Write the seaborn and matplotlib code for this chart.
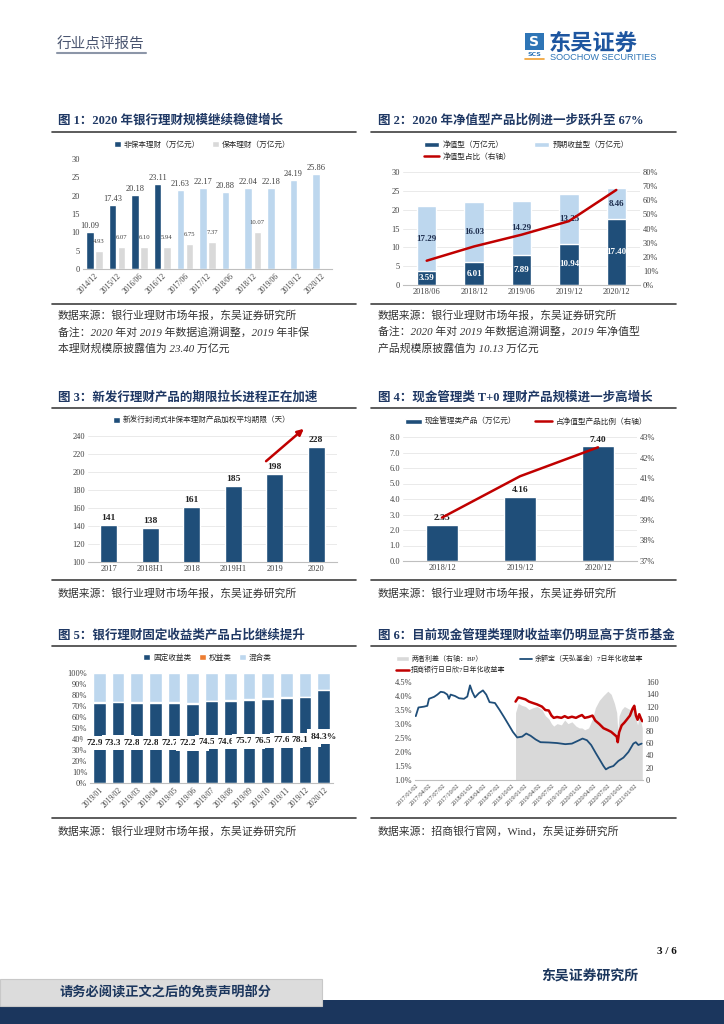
import numpy as np
import pandas as pd
import seaborn as sns
import matplotlib
matplotlib.use("Agg")
import matplotlib.pyplot as plt
from matplotlib.patches import Rectangle, Patch
from matplotlib.lines import Line2D
from matplotlib.ticker import FuncFormatter

### Data ###
# 图1
c1_dates = ["2014/12", "2015/12", "2016/06", "2016/12", "2017/06", "2017/12",
            "2018/06", "2018/12", "2019/06", "2019/12", "2020/12"]
c1_nonguar = [10.09, 17.43, 20.18, 23.11, 21.63, 22.17, 20.88, 22.04, 22.18, 24.19, 25.86]
c1_guar = [4.93, 6.07, 6.10, 5.94, 6.75, 7.37, np.nan, 10.07, np.nan, np.nan, np.nan]

# 图2
c2_dates = ["2018/06", "2018/12", "2019/06", "2019/12", "2020/12"]
c2_net = [3.59, 6.01, 7.89, 10.94, 17.40]
c2_exp = [17.29, 16.03, 14.29, 13.25, 8.46]
c2_ratio = [17.2, 27.3, 35.6, 45.2, 67.3]

# 图3
c3_periods = ["2017", "2018H1", "2018", "2019H1", "2019", "2020"]
c3_days = [141, 138, 161, 185, 198, 228]

# 图4
c4_dates = ["2018/12", "2019/12", "2020/12"]
c4_cash = [2.35, 4.16, 7.40]
c4_ratio = [39.1, 41.1, 42.5]

# 图5
c5_months = ["2019/01", "2019/02", "2019/03", "2019/04", "2019/05", "2019/06", "2019/07",
             "2019/08", "2019/09", "2019/10", "2019/11", "2019/12", "2020/12"]
c5_fixed = [72.9, 73.3, 72.8, 72.8, 72.7, 72.2, 74.5, 74.6, 75.7, 76.5, 77.6, 78.1, 84.3]
c5_equity = [0.5, 0.4, 0.5, 0.5, 0.5, 0.5, 0.5, 0.5, 0.7, 0.5, 0.5, 0.5, 0.6]
c5_labels = ["72.9%", "73.3%", "72.8%", "72.8%", "72.7%", "72.2%", "74.5%",
             "74.6%", "75.7%", "76.5%", "77.6%", "78.1%", "84.3%"]

# 图6
c6_yeb_dates = ["2017-01-02", "2017-01-20", "2017-02-26", "2017-03-20", "2017-03-31", "2017-05-04",
                "2017-05-26", "2017-06-17", "2017-07-09", "2017-07-31", "2017-08-11", "2017-08-22",
                "2017-09-20", "2017-10-17", "2017-11-19", "2017-12-11", "2017-12-29", "2018-01-13",
                "2018-01-31", "2018-02-26", "2018-03-25", "2018-04-16", "2018-05-08", "2018-06-13",
                "2018-07-14", "2018-08-12", "2018-09-09", "2018-10-10", "2018-11-08", "2018-12-11",
                "2019-01-07", "2019-02-05", "2019-03-10", "2019-04-12", "2019-06-06", "2019-07-31",
                "2019-09-24", "2019-11-07", "2019-12-17", "2020-01-17", "2020-02-15", "2020-03-14",
                "2020-04-15", "2020-05-13", "2020-06-04", "2020-06-20", "2020-07-12", "2020-08-09",
                "2020-09-11", "2020-10-15", "2020-11-17", "2020-12-20", "2021-01-05", "2021-01-22",
                "2021-02-13"]
c6_yeb = [3.28, 3.59, 3.62, 3.65, 3.90, 3.97, 4.05, 4.15, 4.13, 4.05, 3.90, 4.05,
          4.00, 3.92, 3.90, 3.98, 4.38, 4.15, 3.95, 4.10, 4.20, 4.05, 3.78, 3.75,
          3.50, 3.25, 3.00, 2.72, 2.52, 2.55, 2.66, 2.58, 2.45, 2.35, 2.34, 2.32,
          2.28, 2.30, 2.40, 2.48, 2.42, 2.25, 1.95, 1.70, 1.50, 1.38, 1.45, 1.50,
          1.68, 1.80, 2.00, 2.30, 2.35, 2.25, 2.30]
c6_cmb_dates = ["2018-10-28", "2018-11-15", "2018-12-07", "2019-01-02", "2019-01-25", "2019-02-20",
                "2019-03-20", "2019-04-22", "2019-05-14", "2019-06-06", "2019-06-24", "2019-07-09",
                "2019-07-31", "2019-08-29", "2019-09-20", "2019-10-12", "2019-11-07", "2019-12-04",
                "2019-12-26", "2020-01-13", "2020-01-31", "2020-02-26", "2020-03-23", "2020-04-11",
                "2020-05-07", "2020-06-04", "2020-07-03", "2020-07-25", "2020-08-16", "2020-08-31",
                "2020-09-07", "2020-09-16", "2020-10-03", "2020-10-21", "2020-11-05", "2020-11-27",
                "2020-12-15", "2020-12-26", "2021-01-06", "2021-01-17", "2021-01-28", "2021-02-08",
                "2021-02-17"]
c6_cmb = [3.80, 3.95, 3.92, 3.88, 3.80, 3.75, 3.70, 3.62, 3.50, 3.48, 3.30, 3.22,
          3.25, 3.22, 3.28, 3.22, 3.26, 3.22, 3.28, 3.32, 3.22, 3.25, 3.30, 3.12,
          3.00, 2.85, 2.78, 2.72, 2.62, 2.55, 2.35, 2.70, 2.95, 3.05, 3.15, 3.30,
          3.55, 3.65, 3.30, 3.15, 3.35, 3.20, 3.10]
c6_spread = [110, 125, 122, 120, 115, 118, 120, 115, 105, 100, 92, 88,
             92, 90, 98, 92, 95, 88, 85, 85, 82, 85, 100, 118,
             130, 138, 145, 140, 125, 110, 80, 105, 115, 120, 118, 115,
             120, 125, 100, 90, 105, 95, 85]
c6_ticks = ["2017/01/02", "2017/04/02", "2017/07/02", "2017/10/02", "2018/01/02", "2018/04/02",
            "2018/07/02", "2018/10/02", "2019/01/02", "2019/04/02", "2019/07/02", "2019/10/02",
            "2020/01/02", "2020/04/02", "2020/07/02", "2020/10/02", "2021/01/02"]

### Colours ###
NAVY = "#1F4E79"
LIGHT = "#BDD7EE"
GREY = "#D9D9D9"
RED = "#C00000"
ORANGE = "#ED7D31"
TITLE = "#1F3864"
TXT = "#404040"

### Seaborn customisation ###
sns.set_theme(style="white")
plt.rcParams['font.family'] = ['Liberation Serif', 'Noto Sans CJK SC']
plt.rcParams['axes.unicode_minus'] = False

W, H = 724, 1024
fig = plt.figure(figsize=(W / 100, H / 100), dpi=100)


def px_axes(x0, y0, x1, y1):
    return fig.add_axes([x0 / W, 1 - y1 / H, (x1 - x0) / W, (y1 - y0) / H])


def ftext(x, y, s, **kw):
    fig.text(x / W, 1 - y / H, s, **kw)


def hline(x0, x1, y, color="#404040", lw=1.2):
    fig.add_artist(Line2D([x0 / W, x1 / W], [1 - y / H, 1 - y / H], color=color, lw=lw))


def style_axes(ax, grid=True):
    for s in ["top", "right", "left"]:
        ax.spines[s].set_visible(False)
    ax.spines["bottom"].set_color("#BFBFBF")
    ax.spines["bottom"].set_linewidth(0.8)
    ax.tick_params(axis="both", length=0, labelsize=6, colors=TXT, pad=2)
    if grid:
        ax.yaxis.grid(True, color="#E6E6E6", lw=0.6)
        ax.set_axisbelow(True)
    ax.set_xlabel("")
    ax.set_ylabel("")


def style_right(ax):
    for s in ["top", "right", "left", "bottom"]:
        ax.spines[s].set_visible(False)
    ax.tick_params(axis="both", length=0, labelsize=6, colors=TXT, pad=2)
    ax.set_ylabel("")
    ax.grid(False)


def legend_at(ax, handles, labels, x, y, ncol, fs=5.5, hl=0.9, cs=1.5):
    ax.legend(handles, labels, loc="center left", bbox_to_anchor=(x / W, 1 - y / H),
              bbox_transform=fig.transFigure, ncol=ncol, frameon=False, fontsize=fs,
              handlelength=hl, handleheight=0.8, columnspacing=cs, handletextpad=0.4,
              borderaxespad=0, borderpad=0, labelspacing=0.5)


def panel_title(x, y, s):
    ftext(x, y, s, fontsize=9, fontweight="bold", color=TITLE, va="center")


def caption(x, y, s, italic=False):
    ftext(x, y, s, fontsize=7.8, color="#333333", va="center",
          style="italic" if italic else "normal")


### Header ###
ftext(57, 45, "行业点评报告", fontsize=10.5, color="#4A5570", va="center")
hline(57, 146, 53, color="#8C96A8", lw=1.5)
fig.add_artist(Rectangle((525 / W, 1 - 50 / H), 19 / W, 17 / H, transform=fig.transFigure,
                         fc="#2E75B6", ec="none"))
ftext(534.5, 41.5, "S", fontsize=10, fontweight="bold", color="white", ha="center", va="center",
      family="DejaVu Sans")
ftext(534.5, 55, "SCS", fontsize=4.5, fontweight="bold", color="#2E75B6", ha="center", va="center",
      family="DejaVu Sans")
hline(525, 544, 59, color="#F0A030", lw=1.2)
ftext(549, 43, "东吴证券", fontsize=16, fontweight="bold", color="#1E56A0", va="center",
      family="Noto Sans CJK SC")
ftext(550, 58, "SOOCHOW SECURITIES", fontsize=6.6, color="#2E75B6", va="center",
      family="Liberation Sans")

### 图1 ###
panel_title(58, 120, "图 1：2020 年银行理财规模继续稳健增长")
hline(52, 356, 132)
df1 = pd.DataFrame({
    "date": c1_dates * 2,
    "val": c1_nonguar + c1_guar,
    "kind": ["非保本理财（万亿元）"] * len(c1_dates) + ["保本理财（万亿元）"] * len(c1_dates),
}).dropna()
ax1 = px_axes(83, 159, 332, 269)
sns.barplot(data=df1, x="date", y="val", hue="kind", palette=[NAVY, GREY], width=0.8,
            gap=0.17, saturation=1, ax=ax1)
for i, p in enumerate(ax1.containers[0]):
    if i >= 4:
        p.set_facecolor(LIGHT)
ax1.bar_label(ax1.containers[0], fmt="%.2f", fontsize=6, padding=1.5, color=TXT)
ax1.bar_label(ax1.containers[1], fmt="%.2f", fontsize=4.8, padding=5, color=TXT)
style_axes(ax1, grid=False)
ax1.set_ylim(0, 30)
ax1.set_yticks(range(0, 31, 5))
ax1.set_xlim(-0.5, len(c1_dates) - 0.5)
plt.setp(ax1.get_xticklabels(), rotation=45, ha="right", rotation_mode="anchor", fontsize=5.5)
legend_at(ax1, [Patch(fc=NAVY), Patch(fc=GREY)], ["非保本理财（万亿元）", "保本理财（万亿元）"],
          114, 145, 2)
hline(52, 356, 304)
caption(58, 315, "数据来源：银行业理财市场年报，东吴证券研究所")
caption(58, 332, "备注：2020 年对 2019 年数据追溯调整，2019 年非保", italic=True)
caption(58, 349, "本理财规模原披露值为 23.40 万亿元", italic=True)

### 图2 ###
panel_title(378, 120, "图 2：2020 年净值型产品比例进一步跃升至 67%")
hline(371, 676, 132)
c2_total = [a + b for a, b in zip(c2_net, c2_exp)]
ax2 = px_axes(403, 172, 640, 285)
sns.barplot(x=c2_dates, y=c2_total, color=LIGHT, width=0.41, saturation=1, ax=ax2)
sns.barplot(x=c2_dates, y=c2_net, color=NAVY, width=0.41, saturation=1, ax=ax2)
for i, (a, b) in enumerate(zip(c2_net, c2_exp)):
    ax2.text(i, a / 2, f"{a:.2f}", ha="center", va="center", fontsize=6.5,
             fontweight="bold", color="white")
    ax2.text(i, a + b / 2, f"{b:.2f}", ha="center", va="center", fontsize=6.5,
             fontweight="bold", color="#1F2F4F")
style_axes(ax2)
ax2.set_ylim(0, 30)
ax2.set_yticks(range(0, 31, 5))
ax2r = ax2.twinx()
sns.lineplot(x=np.arange(len(c2_dates)), y=c2_ratio, color=RED, lw=1.8, ax=ax2r)
ax2r.set_ylim(0, 80)
ax2r.set_yticks(range(0, 81, 10))
ax2r.yaxis.set_major_formatter(FuncFormatter(lambda v, p: f"{v:.0f}%"))
style_right(ax2r)
ax2.set_xlim(-0.5, len(c2_dates) - 0.5)
legend_at(ax2, [Patch(fc=NAVY), Line2D([], [], color=RED, lw=1.8), Patch(fc=LIGHT)],
          ["净值型（万亿元）", "净值型占比（右轴）", "预期收益型（万亿元）"], 424, 151, 2, hl=2.0, cs=3.0)
hline(371, 676, 304)
caption(378, 315, "数据来源：银行业理财市场年报，东吴证券研究所")
caption(378, 332, "备注：2020 年对 2019 年数据追溯调整，2019 年净值型", italic=True)
caption(378, 349, "产品规模原披露值为 10.13 万亿元", italic=True)

### 图3 ###
panel_title(58, 397, "图 3：新发行理财产品的期限拉长进程正在加速")
hline(52, 356, 408)
ax3 = px_axes(88, 436, 337, 562)
sns.barplot(x=c3_periods, y=c3_days, color=NAVY, width=0.42, saturation=1, ax=ax3)
ax3.bar_label(ax3.containers[0], fmt="%d", fontsize=6.8, fontweight="bold", padding=2, color="#222222")
style_axes(ax3)
ax3.set_ylim(100, 240)
ax3.set_yticks(range(100, 241, 20))
ax3.annotate("", xy=(4.75, 250), xytext=(3.74, 210), annotation_clip=False,
             arrowprops=dict(arrowstyle="-|>", color=RED, lw=1.8, mutation_scale=9))
legend_at(ax3, [Patch(fc=NAVY)], ["新发行封闭式非保本理财产品加权平均期限（天）"], 113, 421, 1)
hline(52, 356, 580)
caption(58, 593, "数据来源：银行业理财市场年报，东吴证券研究所")

### 图4 ###
panel_title(378, 397, "图 4：现金管理类 T+0 理财产品规模进一步高增长")
hline(371, 676, 408)
ax4 = px_axes(403, 437, 637, 561)
sns.barplot(x=c4_dates, y=c4_cash, color=NAVY, width=0.4, saturation=1, ax=ax4)
ax4.bar_label(ax4.containers[0], fmt="%.2f", fontsize=6.8, fontweight="bold", padding=2, color="#222222")
style_axes(ax4)
ax4.set_ylim(0, 8)
ax4.set_yticks(range(0, 9))
ax4.yaxis.set_major_formatter(FuncFormatter(lambda v, p: f"{v:.1f}"))
ax4r = ax4.twinx()
sns.lineplot(x=np.arange(len(c4_dates)), y=c4_ratio, color=RED, lw=1.8, ax=ax4r)
ax4r.set_ylim(37, 43)
ax4r.set_yticks(range(37, 44))
ax4r.yaxis.set_major_formatter(FuncFormatter(lambda v, p: f"{v:.0f}%"))
style_right(ax4r)
ax4.set_xlim(-0.5, len(c4_dates) - 0.5)
legend_at(ax4, [Patch(fc=NAVY), Line2D([], [], color=RED, lw=1.8)],
          ["现金管理类产品（万亿元）", "占净值型产品比例（右轴）"], 405, 422, 2, hl=2.2, cs=2.5)
hline(371, 676, 580)
caption(378, 593, "数据来源：银行业理财市场年报，东吴证券研究所")

### 图5 ###
panel_title(58, 635, "图 5：银行理财固定收益类产品占比继续提升")
hline(52, 356, 646)
c5_top = [100.0] * len(c5_months)
c5_fe = [a + b for a, b in zip(c5_fixed, c5_equity)]
ax5 = px_axes(90, 673, 333, 783)
sns.barplot(x=c5_months, y=c5_top, color=LIGHT, width=0.68, saturation=1, ax=ax5)
sns.barplot(x=c5_months, y=c5_fe, color=ORANGE, width=0.68, saturation=1, ax=ax5)
sns.barplot(x=c5_months, y=c5_fixed, color=NAVY, width=0.68, saturation=1, ax=ax5)
for i, (v, lab) in enumerate(zip(c5_fixed, c5_labels)):
    ax5.text(i, v / 2, lab, ha="center", va="center", fontsize=6.8, fontweight="bold",
             color="#222222", bbox=dict(boxstyle="square,pad=0.35", fc="white", ec="none"))
style_axes(ax5, grid=False)
ax5.set_ylim(0, 100)
ax5.set_yticks(range(0, 101, 10))
ax5.yaxis.set_major_formatter(FuncFormatter(lambda v, p: f"{v:.0f}%"))
plt.setp(ax5.get_xticklabels(), rotation=45, ha="right", rotation_mode="anchor", fontsize=5.5)
legend_at(ax5, [Patch(fc=NAVY), Patch(fc=ORANGE), Patch(fc=LIGHT)],
          ["固定收益类", "权益类", "混合类"], 143, 658, 3, cs=1.0)
hline(52, 356, 818)
caption(58, 831, "数据来源：银行业理财市场年报，东吴证券研究所")

### 图6 ###
panel_title(378, 635, "图 6：目前现金管理类理财收益率仍明显高于货币基金")
hline(371, 676, 646)
yeb = pd.DataFrame({"date": pd.to_datetime(c6_yeb_dates), "rate": c6_yeb})
cmb = pd.DataFrame({"date": pd.to_datetime(c6_cmb_dates), "rate": c6_cmb, "spread": c6_spread})
ax6 = px_axes(415, 682, 643, 780)
ax6r = ax6.twinx()
ax6r.fill_between(cmb["date"], 0, cmb["spread"], color=GREY, lw=0)
sns.lineplot(data=yeb, x="date", y="rate", color=NAVY, lw=1.3, ax=ax6)
sns.lineplot(data=cmb, x="date", y="rate", color=RED, lw=1.8, ax=ax6)
ax6.set_zorder(ax6r.get_zorder() + 1)
ax6.patch.set_visible(False)
style_axes(ax6, grid=False)
ax6.set_ylim(1.0, 4.5)
ax6.set_yticks(np.arange(1.0, 4.51, 0.5))
ax6.yaxis.set_major_formatter(FuncFormatter(lambda v, p: f"{v:.1f}%"))
tick_dates = pd.to_datetime(c6_ticks, format="%Y/%m/%d")
ax6.set_xticks(tick_dates)
ax6.set_xticklabels(c6_ticks, rotation=45, ha="right", rotation_mode="anchor", fontsize=4.6)
ax6.set_xlim(pd.Timestamp("2016-12-28"), pd.Timestamp("2021-02-22"))
ax6r.set_ylim(0, 160)
ax6r.set_yticks(range(0, 161, 20))
style_right(ax6r)
legend_at(ax6, [Patch(fc=GREY), Line2D([], [], color=RED, lw=1.8), Line2D([], [], color=NAVY, lw=1.3)],
          ["两者利差（右轴：BP）", "招商银行日日欣7日年化收益率", "余额宝（天弘基金）7日年化收益率"],
          396, 664, 2, fs=5, hl=1.8, cs=2.0)
hline(371, 676, 818)
caption(378, 831, "数据来源：招商银行官网，Wind，东吴证券研究所")

### Footer ###
ftext(677, 952, "3 / 6", fontsize=8, fontweight="bold", color="#111111", ha="right", va="center")
ftext(590, 977, "东吴证券研究所", fontsize=10, fontweight="bold", color="#1B365D", ha="center", va="center")
fig.add_artist(Rectangle((0, 0), 1, 24 / H, transform=fig.transFigure, fc="#1B365D", ec="none"))
fig.add_artist(Rectangle((0, 1 - 1006 / H), 322 / W, 27 / H, transform=fig.transFigure,
                         fc="#DCDCDC", ec="#C8C8C8", lw=0.8))
ftext(165, 993, "请务必阅读正文之后的免责声明部分", fontsize=9.5, fontweight="bold",
      color="#1B365D", ha="center", va="center")

fig.savefig("out.png", dpi=100)
